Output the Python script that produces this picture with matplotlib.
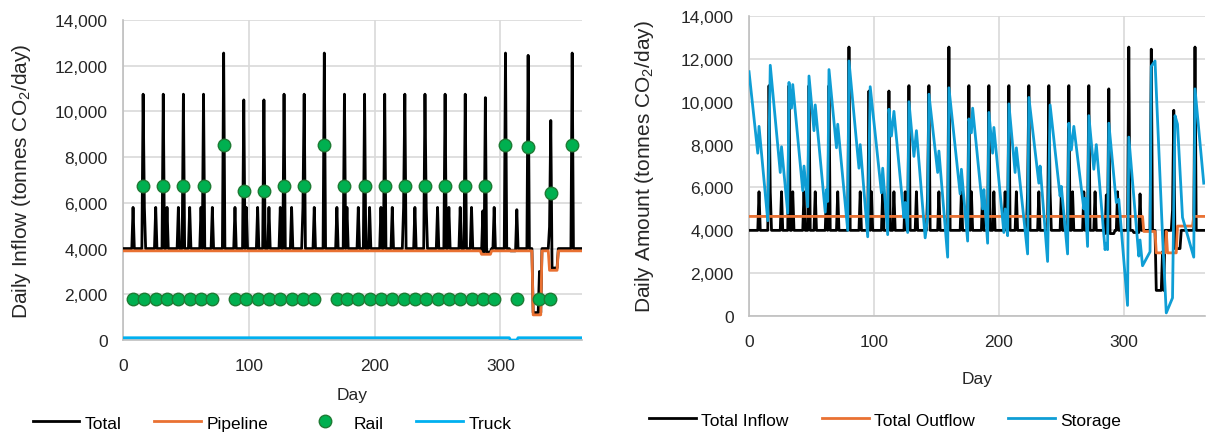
import matplotlib
matplotlib.use("Agg")
import matplotlib.pyplot as plt
from matplotlib.ticker import FuncFormatter, MultipleLocator
import numpy as np

plt.rcParams['font.family'] = ['Liberation Sans', 'DejaVu Sans']
plt.rcParams['mathtext.fontset'] = 'custom'
plt.rcParams['mathtext.rm'] = 'Liberation Sans'

# ---- data ----
n_days = 365

# rail deliveries (day, tonnes)
rail_big_days = [16, 32, 48, 64, 80, 96, 112, 128, 144, 160, 176, 192, 208, 224,
                 240, 256, 272, 288, 304, 322, 340, 357]
rail_big_vals = [6750, 6750, 6750, 6750, 8550, 6500, 6500, 6750, 6750, 8550, 6750,
                 6750, 6750, 6750, 6750, 6750, 6750, 6750, 8550, 8450, 6450, 8550]
rail_small_days = [8, 17, 26, 35, 44, 53, 62, 71,
                   89, 98, 107, 116, 125, 134, 143, 152,
                   170, 178, 187, 196, 205, 214, 223, 232, 241, 250, 259, 268, 277, 286, 295,
                   313, 331, 339]
rail_small_val = 1800

# pipeline level changes (start day, level)
pipe_start = [0, 285, 293, 326, 333, 339, 346]
pipe_level = [3900, 3750, 3900, 1100, 3900, 3050, 3900]

# truck level changes
truck_start = [0, 308, 314]
truck_level = [100, 0, 100]

# total outflow level changes
out_start = [0, 316, 326, 334, 335, 343, 356]
out_level = [4650, 3950, 2950, 3950, 2950, 4200, 4650]

# storage turning points (day, tonnes)
storage_days = [0, 7, 8, 15, 17, 25, 26, 31, 32, 34, 35, 43, 44, 47, 48, 52, 53, 61, 62, 63,
                64, 70, 71, 79, 80, 88, 89, 95, 97, 106, 107, 111, 112, 114, 116, 124, 125,
                127, 128, 132, 134, 141, 143, 144, 151, 152, 159, 160, 169, 170, 175, 176,
                178, 179, 187, 188, 191, 192, 195, 196, 204, 205, 207, 208, 213, 214, 223,
                224, 232, 233, 239, 241, 249, 250, 255, 256, 258, 260, 268, 269, 271, 272,
                276, 278, 285, 286, 287, 288, 294, 296, 303, 304, 312, 313, 315, 321, 322,
                325, 331, 334, 339, 341, 343, 347, 356, 357, 364]
storage_vals = [11400, 7600, 8850, 4450, 11700, 6700, 7900, 4800, 10900, 9700, 10800, 5850,
                7000, 5100, 11200, 8650, 9850, 4850, 5900, 5350, 11500, 7850, 8950, 4000,
                11900, 6900, 8000, 3700, 10700, 5750, 6900, 3800, 9650, 8400, 9550, 4600,
                5300, 3900, 10000, 7450, 8650, 3650, 4600, 10350, 6700, 7700, 2750, 10650,
                5700, 6850, 3500, 9200, 8550, 9700, 5000, 5900, 3400, 9500, 7600, 8800, 3900,
                5000, 3750, 9900, 6700, 7850, 2900, 10200, 6200, 7000, 2550, 9850, 5600,
                6050, 2900, 9000, 7750, 8850, 5000, 5500, 3250, 9350, 6850, 8000, 3100, 3400,
                3100, 9000, 5300, 5450, 500, 8350, 2800, 3550, 2350, 3000, 11650, 11900,
                3750, 150, 850, 9350, 8950, 4600, 2750, 10600, 6200]

# ---- daily series ----
days = np.arange(n_days)


def steps(starts, levels):
    idx = np.searchsorted(starts, days, side='right') - 1
    return np.array(levels, dtype=float)[idx]


pipeline = steps(pipe_start, pipe_level)
truck = steps(truck_start, truck_level)
outflow = steps(out_start, out_level)
rail = np.zeros(n_days)
rail[rail_big_days] += rail_big_vals
rail[rail_small_days] += rail_small_val
total = pipeline + rail + truck
rail_days = np.nonzero(rail)[0]

c_orange = '#E97132'
c_green = '#00B050'
c_truck = '#00B0F0'
c_store = '#0F9ED5'
c_grid = '#D9D9D9'
c_text = '#262626'
fs = 12.5

fig = plt.figure(figsize=(12.13, 4.35), dpi=100)
ax1 = fig.add_axes([0.1014, 0.216, 0.3786, 0.736])
ax2 = fig.add_axes([0.6175, 0.271, 0.3759, 0.690])

ax1.plot(days, total, color='black', lw=2.0, label='Total', zorder=3)
ax1.plot(days, pipeline, color=c_orange, lw=2.0, label='Pipeline', zorder=4)
ax1.plot(rail_days, rail[rail_days], 'o', color=c_green, mec='#1E7B34', mew=1.0,
         ms=9, label='Rail', zorder=5)
ax1.plot(days, truck, color=c_truck, lw=2.0, label='Truck', zorder=4)

ax2.plot(days, total, color='black', lw=2.0, label='Total Inflow', zorder=3)
ax2.plot(days, outflow, color=c_orange, lw=2.0, label='Total Outflow', zorder=4)
ax2.plot(storage_days, storage_vals, color=c_store, lw=2.0, label='Storage', zorder=5)

fmt = FuncFormatter(lambda v, p: f'{int(v):,}')
for ax, ylab, ylx, xpad in ((ax1, 'Daily Inflow (tonnes CO$_2$/day)', -0.196, 10),
                            (ax2, 'Daily Amount (tonnes CO$_2$/day)', -0.204, 16)):
    ax.set_xlim(0, 365)
    ax.set_ylim(0, 14000)
    ax.xaxis.set_major_locator(MultipleLocator(100))
    ax.yaxis.set_major_locator(MultipleLocator(2000))
    ax.yaxis.set_major_formatter(fmt)
    ax.grid(True, color=c_grid, lw=1.2, zorder=0)
    ax.set_axisbelow(True)
    for s in ('top', 'right'):
        ax.spines[s].set_visible(False)
    for s in ('left', 'bottom'):
        ax.spines[s].set_color('#BFBFBF')
        ax.spines[s].set_linewidth(1.2)
    ax.tick_params(length=0, labelsize=fs, colors=c_text)
    ax.tick_params(axis='y', pad=11)
    ax.tick_params(axis='x', pad=13)
    ax.set_xlabel('Day', fontsize=fs, color=c_text, labelpad=xpad)
    ax.set_ylabel(ylab, fontsize=15, color=c_text)
    ax.yaxis.set_label_coords(ylx, 0.5)

fig.legend(*ax1.get_legend_handles_labels(), loc='center', ncol=4,
           bbox_to_anchor=(272 / 1213, 1 - 424 / 435), frameon=False, fontsize=fs,
           handlelength=2.7, handletextpad=0.3, columnspacing=1.9)
fig.legend(*ax2.get_legend_handles_labels(), loc='center', ncol=3,
           bbox_to_anchor=(885 / 1213, 1 - 421 / 435), frameon=False, fontsize=fs,
           handlelength=2.7, handletextpad=0.3, columnspacing=1.9)

fig.savefig('out.png', dpi=100)
